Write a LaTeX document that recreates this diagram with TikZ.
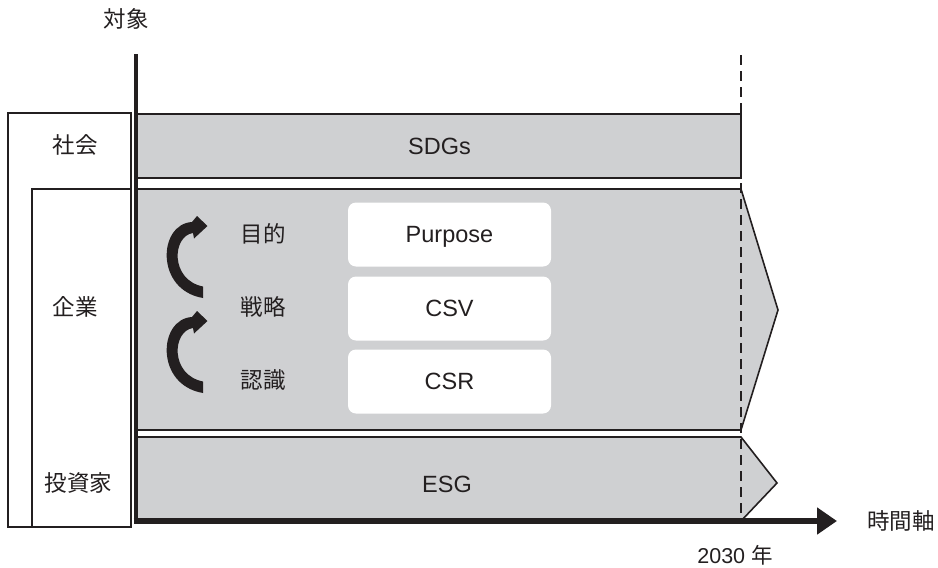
\documentclass[tikz,border=0pt]{standalone}
\usepackage{fontspec}
\setmainfont{Liberation Sans}
\newfontfamily\jp{Noto Sans CJK JP}
\usetikzlibrary{arrows.meta}
\definecolor{band}{RGB}{207,208,210}
\definecolor{ink}{RGB}{35,31,32}

\begin{document}
\begin{tikzpicture}[x=1pt,y=-1pt,
  bandshape/.style={fill=band, draw=ink, line width=1.6pt, line join=miter},
  frame/.style={draw=ink, line width=1.6pt, fill=white},
  jlabel/.style={font=\jp\fontsize{22.5}{24}\selectfont, text=ink, inner sep=0pt},
  llabel/.style={font=\fontsize{23.5}{26}\selectfont, text=ink, inner sep=0pt,
    text height=16.8pt, text depth=0pt},
  card/.style={fill=white, rounded corners=8pt, minimum width=203pt,
    minimum height=64pt, inner sep=0pt, font=\fontsize{23.5}{26}\selectfont, text=ink,
    text height=16.8pt, text depth=0pt},
  axisline/.style={draw=ink, line width=4.6pt},
  marker/.style={draw=ink, line width=2.6pt, dash pattern=on 10pt off 6pt},
  turn/.style={fill=ink},
]
\useasboundingbox (0,0) rectangle (938,568);

% left-hand stakeholder frames
\draw[frame] (8,113) rectangle (131,527);
\draw[frame] (32,189) rectangle (131,527);

% horizontal bands along the time axis
\draw[bandshape] (136,114) -- (741,114) -- (741,178) -- (136,178);
\draw[bandshape] (136,189) -- (741,189) -- (778,310) -- (741,430) -- (136,430);
\draw[bandshape] (136,437) -- (741,437) -- (777,483) -- (741,521) -- (136,521);

% 2030 marker
\coordinate (mtop) at (741,55);
\coordinate (mbot) at (741,521);
\draw[marker] (mtop) -- (mbot);

% axes
\coordinate (ytop) at (136,54);
\coordinate (origin) at (136,521);
\coordinate (xstart) at (133.7,521);
\coordinate (xend) at (837,521);
\draw[axisline] (ytop) -- ([yshift=-2.8pt]origin);
\draw[draw=ink, line width=5.6pt, -{Triangle[length=20pt,width=26pt]}] (xstart) -- (xend);

% cycle arrows
\foreach \dy in {0,95}{
  \begin{scope}[shift={(0,\dy)}]
    \fill[turn] (203,298) .. controls (155,290) and (158,224) .. (192,222)
      -- (197,216) -- (207.5,226) -- (194,238.5)
      -- (193,233) .. controls (172,236) and (170,280) .. (203,286.5) -- cycle;
  \end{scope}
}

% labels
\node[jlabel] (obj) at (126,19) {対象};
\node[jlabel] (soc) at (75,145) {社会};
\node[jlabel] (ent) at (75,307) {企業};
\node[jlabel] (inv) at (78.5,483) {投資家};

\node[llabel] (sdgs) at (439.5,146.5) {SDGs};
\node[llabel] (esg) at (447,484) {ESG};

\node[card] (purpose) at (449.5,234.5) {Purpose};
\node[card] (csv) at (449.5,308.5) {CSV};
\node[card] (csr) at (449.5,381.5) {CSR};

\node[jlabel] (aim) at (263,234) {目的};
\node[jlabel] (strat) at (263,307) {戦略};
\node[jlabel] (recog) at (263,380) {認識};

\node[jlabel] (time) at (901,521) {時間軸};
\node[inner sep=0pt, text=ink] (year) at (735,555)
  {\fontsize{21.5}{24}\selectfont 2030 {\jp 年}};
\end{tikzpicture}
\end{document}
